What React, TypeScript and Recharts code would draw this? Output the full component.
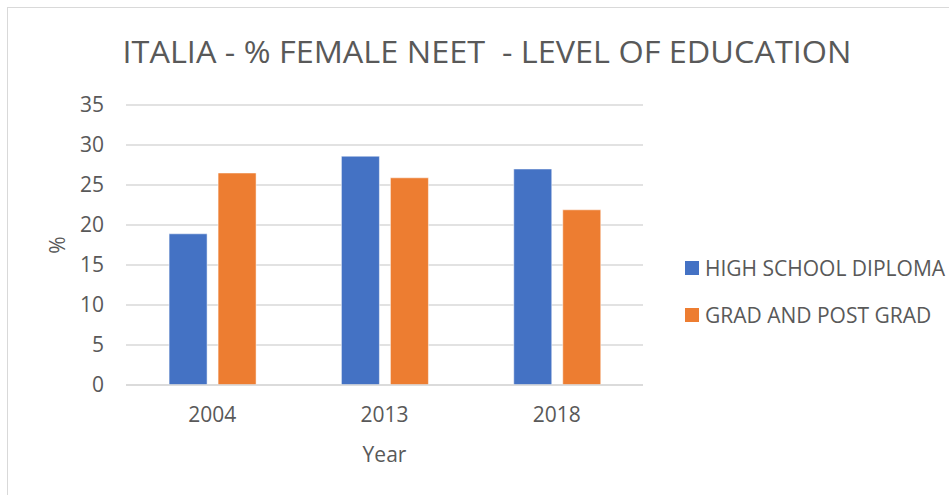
import { Bar, BarChart, CartesianGrid, Legend, XAxis, YAxis } from "recharts";

const years = ["2004", "2013", "2018"];
const highSchool = [18.9, 28.6, 27.0];
const gradPostGrad = [26.5, 25.9, 21.9];
const seriesNames = ["HIGH SCHOOL DIPLOMA", "GRAD AND POST GRAD"];
const yTicks = [0, 5, 10, 15, 20, 25, 30, 35];

const data = years.map((year, i) => ({
  year,
  highSchool: highSchool[i],
  grad: gradPostGrad[i],
}));

const FONT = "'Open Sans', 'DejaVu Sans', sans-serif";
const TEXT = "#595959";
const FS = 21;

function LegendList({ payload }: any) {
  // keep the series order, not the alphabetical one
  const items = [...(payload || [])].sort(
    (a: any, b: any) => seriesNames.indexOf(a.value) - seriesNames.indexOf(b.value)
  );
  return (
    <div style={{ fontFamily: FONT, fontSize: FS, color: TEXT }}>
      {items.map((item: any) => (
        <div key={item.value} style={{ display: "flex", alignItems: "center", height: 47 }}>
          <span style={{ width: 14, height: 14, background: item.color, marginRight: 6, display: "inline-block" }} />
          <span>{item.value}</span>
        </div>
      ))}
    </div>
  );
}

export default function App() {
  return (
    <div style={{ position: "absolute", left: 0, top: 0, width: 949, height: 495, background: "#fff", overflow: "hidden" }}>
      <div
        style={{
          position: "absolute",
          left: 7,
          top: 7,
          width: 1000,
          height: 1000,
          borderLeft: "1px solid #d9d9d9",
          borderTop: "1px solid #d9d9d9",
        }}
      />
      <BarChart
        width={949}
        height={495}
        data={data}
        margin={{ top: 105, right: 306, bottom: 30, left: 66 }}
        barCategoryGap="25%"
        barGap={11}
        style={{ position: "absolute", left: 0, top: 0, fontFamily: FONT }}
      >
        <text
          x={487}
          y={63}
          textAnchor="middle"
          fontSize={31}
          fill={TEXT}
          fontFamily={FONT}
          textLength={729}
          lengthAdjust="spacingAndGlyphs"
          style={{ whiteSpace: "pre" }}
        >
          ITALIA - % FEMALE NEET  - LEVEL OF EDUCATION
        </text>
        <CartesianGrid vertical={false} stroke="#d9d9d9" strokeWidth={1.5} />
        <XAxis
          dataKey="year"
          height={80}
          axisLine={{ stroke: "#d9d9d9", strokeWidth: 1.5 }}
          tickLine={false}
          tickSize={0}
          tickMargin={22}
          tick={{ fill: TEXT, fontSize: FS }}
          label={{ value: "Year", position: "insideBottom", offset: 3, fill: TEXT, fontSize: FS }}
        />
        <YAxis
          width={60}
          domain={[0, 35]}
          ticks={yTicks}
          axisLine={false}
          tickLine={false}
          tickSize={0}
          tickMargin={22}
          tick={{ fill: TEXT, fontSize: FS }}
          label={{ value: "%", angle: -90, position: "insideLeft", offset: -8, fill: TEXT, fontSize: FS, style: { textAnchor: "middle" } }}
        />
        <Legend
          layout="vertical"
          align="center"
          verticalAlign="middle"
          content={<LegendList />}
          wrapperStyle={{ position: "absolute", left: 685, top: 244, width: 264 }}
        />
        <Bar dataKey="highSchool" name={seriesNames[0]} fill="#4472C4" stroke="#fff" strokeWidth={0.5} isAnimationActive={false} />
        <Bar dataKey="grad" name={seriesNames[1]} fill="#ED7D31" stroke="#fff" strokeWidth={0.5} isAnimationActive={false} />
      </BarChart>
    </div>
  );
}
